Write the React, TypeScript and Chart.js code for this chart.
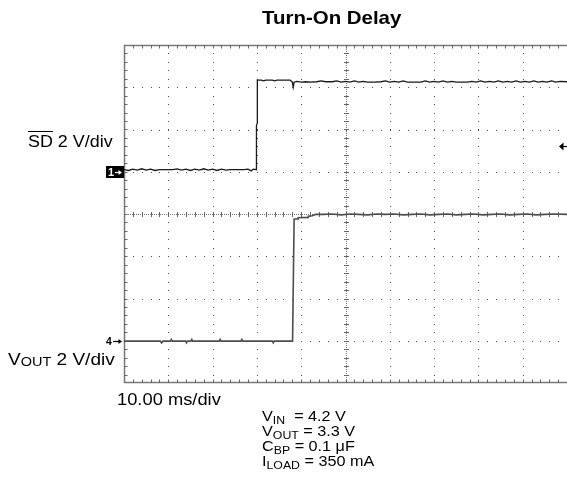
import React, { useEffect, useRef } from "react";
import { Chart, registerables } from "chart.js";

Chart.register(...registerables);

// ---- data (time in ms, level in scope divisions, 0 = bottom graticule line) ----
const timeDivTicks = [0, 10, 20, 30, 40, 50, 60, 70, 80, 90, 100];
const levelDivTicks = [0, 1, 2, 3, 4, 5, 6, 7, 8];

const sdTime = [
  0, 1, 2, 3, 4, 5, 6, 7, 8, 9.5, 11, 12, 13, 14, 15, 16, 17, 18, 19, 20, 21, 22, 23, 24, 25.5, 27, 28, 28.7, 29.2,
  29.9, 29.9, 30.1, 30.1, 31, 31.5, 32, 33.5, 34, 34.5, 36, 37.5, 38, 38.2, 38.4, 39, 40, 41, 42, 43.5, 44.5, 45.5,
  47, 48, 49, 50, 51, 52, 53, 54, 55, 56.5, 58, 59, 60, 61, 62, 63, 64, 65.5, 67, 68, 69, 70, 71, 72, 73, 74, 75,
  76.5, 77.5, 78.5, 79.5, 80.5, 81.5, 82.5, 83.5, 84.5, 85.5, 86.5, 87.5, 88.5, 89.5, 90.5, 91.5, 92.5, 93.5, 94.5,
  95.5, 96.5, 97.5, 98.5, 100,
];
const sdLevel = [
  5.05, 5.03, 5.06, 5.04, 5.07, 5.04, 5.06, 5.03, 5.05, 5.05, 5.05, 5.07, 5.04, 5.06, 5.03, 5.06, 5.04, 5.07, 5.04,
  5.06, 5.03, 5.06, 5.04, 5.05, 5.05, 5.05, 5.06, 5.02, 5.06, 5.05, 6.1, 6.15, 7.17, 7.17, 7.15, 7.17, 7.17, 7.15,
  7.17, 7.17, 7.17, 7.12, 7.0, 7.12, 7.14, 7.12, 7.13, 7.12, 7.13, 7.15, 7.13, 7.13, 7.15, 7.12, 7.14, 7.12, 7.15,
  7.12, 7.14, 7.12, 7.12, 7.13, 7.15, 7.12, 7.14, 7.12, 7.15, 7.12, 7.12, 7.12, 7.15, 7.12, 7.14, 7.12, 7.15, 7.12,
  7.14, 7.12, 7.12, 7.12, 7.14, 7.12, 7.15, 7.12, 7.14, 7.12, 7.15, 7.12, 7.14, 7.12, 7.15, 7.12, 7.14, 7.12, 7.15,
  7.12, 7.14, 7.12, 7.15, 7.12, 7.14, 7.13,
];

const voutTime = [
  0, 8.2, 8.5, 8.8, 10.5, 10.7, 10.9, 13.9, 14.1, 14.3, 15.1, 15.3, 15.5, 21.5, 21.7, 21.9, 26.4, 26.6, 26.8, 33.5,
  33.7, 33.9, 38.05, 38.4, 39.3, 39.3, 41.6, 41.6, 42.5, 43.2, 45, 47, 49, 51, 53, 55, 57, 59, 61, 63, 65, 67, 69,
  71, 73, 75, 77, 79, 81, 83, 85, 87, 89, 91, 93, 95, 97, 100,
];
const voutLevel = [
  0.99, 0.99, 0.95, 0.99, 0.99, 1.03, 0.99, 0.99, 0.95, 0.99, 0.99, 1.03, 0.99, 0.99, 1.03, 0.99, 0.99, 1.03, 0.99,
  0.99, 0.95, 0.99, 0.99, 3.88, 3.88, 3.91, 3.92, 3.95, 3.96, 3.99, 3.99, 4.0, 3.98, 4.0, 3.99, 3.98, 4.0, 3.99, 4.0,
  3.98, 3.99, 4.0, 3.98, 3.99, 4.0, 3.98, 3.99, 4.0, 3.98, 3.99, 4.0, 3.98, 3.99, 4.0, 3.98, 3.99, 4.0, 3.99,
];

const ch1Ground = 5;
const ch4Ground = 1;
const triggerLevel = 5.62;

const titleText = "Turn-On Delay";
const ch1Label = "SD";
const ch1Scale = " 2 V/div";
const ch4Scale = " 2 V/div";
const timebaseLabel = "10.00 ms/div";

const FONT = '"Liberation Sans", Arial, Helvetica, sans-serif';

const gridPlugin = {
  id: "scopeGrid",
  beforeDatasetsDraw(chart: any) {
    const { ctx, chartArea, scales } = chart;
    const xs = scales.x;
    const ys = scales.y;
    const { left, top, bottom } = chartArea;
    const tMin = timeDivTicks[0];
    const tMax = timeDivTicks[timeDivTicks.length - 1];
    const lMin = levelDivTicks[0];
    const lMax = levelDivTicks[levelDivTicks.length - 1];
    const tStep = (timeDivTicks[1] - timeDivTicks[0]) / 5;
    const lStep = (levelDivTicks[1] - levelDivTicks[0]) / 5;
    const tMid = timeDivTicks[Math.floor(timeDivTicks.length / 2)];
    const lMid = levelDivTicks[Math.floor(levelDivTicks.length / 2)];
    ctx.save();
    // dotted major graticule lines
    ctx.fillStyle = "#4a4a4a";
    timeDivTicks.forEach((t) => {
      if (t === tMin || t === tMax || t === tMid) return;
      const px = Math.round(xs.getPixelForValue(t));
      for (let l = lMin + lStep; l < lMax - 1e-6; l += lStep) {
        const py = Math.round(ys.getPixelForValue(l));
        ctx.fillRect(px, py, 1, 1);
      }
    });
    levelDivTicks.forEach((l) => {
      if (l === lMin || l === lMax || l === lMid) return;
      const py = Math.round(ys.getPixelForValue(l));
      for (let t = tMin + tStep; t < tMax - 1e-6; t += tStep) {
        const px = Math.round(xs.getPixelForValue(t));
        ctx.fillRect(px, py, 1, 1);
      }
    });
    // centre cross lines with minor ticks
    const cx = Math.round(xs.getPixelForValue(tMid)) + 0.5;
    const cy = Math.round(ys.getPixelForValue(lMid)) + 0.5;
    ctx.strokeStyle = "#777";
    ctx.lineWidth = 1;
    ctx.setLineDash([1, 1]);
    ctx.beginPath();
    ctx.moveTo(cx, top);
    ctx.lineTo(cx, bottom);
    ctx.moveTo(left, cy);
    ctx.lineTo(chartArea.right, cy);
    ctx.stroke();
    ctx.setLineDash([]);
    ctx.strokeStyle = "#666";
    ctx.beginPath();
    for (let l = lMin + lStep; l < lMax - 1e-6; l += lStep) {
      const py = Math.round(ys.getPixelForValue(l)) + 0.5;
      ctx.moveTo(cx - 2.5, py);
      ctx.lineTo(cx + 2.5, py);
    }
    for (let t = tMin + tStep; t < tMax - 1e-6; t += tStep) {
      const px = Math.round(xs.getPixelForValue(t)) + 0.5;
      ctx.moveTo(px, cy - 2.5);
      ctx.lineTo(px, cy + 2.5);
    }
    ctx.stroke();
    // frame (left, top, bottom) with ticks
    ctx.strokeStyle = "#777";
    ctx.lineWidth = 1.5;
    ctx.beginPath();
    ctx.moveTo(left + 0.5, top);
    ctx.lineTo(left + 0.5, bottom);
    ctx.moveTo(left, top + 0.5);
    ctx.lineTo(chartArea.right, top + 0.5);
    ctx.moveTo(left, bottom - 0.5);
    ctx.lineTo(chartArea.right, bottom - 0.5);
    ctx.stroke();
    ctx.lineWidth = 1;
    ctx.strokeStyle = "#666";
    ctx.beginPath();
    for (let t = tMin + tStep; t < tMax - 1e-6; t += tStep) {
      const px = Math.round(xs.getPixelForValue(t)) + 0.5;
      ctx.moveTo(px, top);
      ctx.lineTo(px, top + 3.5);
      ctx.moveTo(px, bottom);
      ctx.lineTo(px, bottom - 3.5);
    }
    for (let l = lMin + lStep; l < lMax - 1e-6; l += lStep) {
      const py = Math.round(ys.getPixelForValue(l)) + 0.5;
      ctx.moveTo(left, py);
      ctx.lineTo(left + 3.5, py);
    }
    ctx.stroke();
    ctx.restore();
  },
  afterDraw(chart: any) {
    const { ctx, chartArea, scales } = chart;
    const py = Math.round(scales.y.getPixelForValue(triggerLevel)) + 0.5;
    const r = chartArea.right;
    ctx.save();
    ctx.fillStyle = "#000";
    ctx.beginPath();
    ctx.moveTo(r - 8, py);
    ctx.lineTo(r - 3.5, py - 4);
    ctx.lineTo(r - 3.5, py + 4);
    ctx.closePath();
    ctx.fill();
    ctx.strokeStyle = "#000";
    ctx.lineWidth = 1.2;
    ctx.beginPath();
    ctx.moveTo(r - 4, py);
    ctx.lineTo(r, py);
    ctx.stroke();
    ctx.restore();
  },
};

function Label(props: {
  x: number;
  base: number;
  size: number;
  sx?: number;
  bold?: boolean;
  children: any;
}) {
  const { x, base, size, sx = 1, bold = false, children } = props;
  return (
    <div
      style={{
        position: "absolute",
        left: x,
        top: base - 0.8465 * size,
        fontSize: size,
        lineHeight: `${size}px`,
        fontFamily: FONT,
        fontWeight: bold ? 700 : 400,
        whiteSpace: "pre",
        transform: `scaleX(${sx})`,
        transformOrigin: "0 0",
        color: "#000",
      }}
    >
      {children}
    </div>
  );
}

function Sub(props: { children: any; shift?: number }) {
  return (
    <span style={{ fontSize: "0.76em", position: "relative", top: props.shift ?? 3 }}>{props.children}</span>
  );
}

function Arrow(props: { color: string; left: number; top: number; width: number }) {
  const { color, left, top, width } = props;
  return (
    <svg
      width={width}
      height={7}
      style={{ position: "absolute", left, top, display: "block", overflow: "visible" }}
    >
      <line x1={0} y1={3.5} x2={width - 2} y2={3.5} stroke={color} strokeWidth={1.2} />
      <path d={`M${width - 3.5} 1 L${width} 3.5 L${width - 3.5} 6 Z`} fill={color} />
    </svg>
  );
}

export default function App() {
  const canvasRef = useRef<HTMLCanvasElement | null>(null);

  useEffect(() => {
    if (!canvasRef.current) return;
    const chart = new Chart(canvasRef.current, {
      type: "line",
      data: {
        datasets: [
          {
            label: "SD",
            data: sdTime.map((t, i) => ({ x: t, y: sdLevel[i] })),
            borderColor: "#1a1a1a",
            borderWidth: 1.3,
            pointRadius: 0,
            tension: 0,
            fill: false,
          },
          {
            label: "VOUT",
            data: voutTime.map((t, i) => ({ x: t, y: voutLevel[i] })),
            borderColor: "#4d4d4d",
            borderWidth: 1.6,
            pointRadius: 0,
            tension: 0,
            fill: false,
          },
        ],
      },
      options: {
        animation: false,
        responsive: false,
        devicePixelRatio: 1,
        layout: { padding: { left: 124, top: 45, right: 0, bottom: 107 } },
        scales: {
          x: {
            type: "linear",
            min: timeDivTicks[0],
            max: timeDivTicks[timeDivTicks.length - 1],
            display: false,
          },
          y: {
            type: "linear",
            min: levelDivTicks[0],
            max: levelDivTicks[levelDivTicks.length - 1],
            display: false,
          },
        },
        plugins: {
          legend: { display: false },
          tooltip: { enabled: false },
          title: { display: false },
        },
      },
      plugins: [gridPlugin],
    });
    return () => chart.destroy();
  }, []);

  // marker vertical positions follow the chart's fixed layout (top 45, 8 divs of 42.25 px)
  const divPx = (490 - 107 - 45) / 8;
  const ch1Y = Math.round(383 - ch1Ground * divPx);
  const ch4Y = Math.round(383 - ch4Ground * divPx);

  return (
    <div style={{ position: "absolute", left: 0, top: 0, width: 567, height: 490, background: "#fff" }}>
      <canvas ref={canvasRef} width={567} height={490} style={{ display: "block" }} />
      <Label x={262} base={25} size={17.8} sx={1.15} bold>
        {titleText}
      </Label>
      <Label x={28} base={146.7} size={16.3} sx={1.1}>
        <span style={{ textDecoration: "overline" }}>{ch1Label}</span>
        {ch1Scale}
      </Label>
      <Label x={8} base={365.5} size={17} sx={1.12}>
        V<Sub shift={1}>OUT</Sub>
        {ch4Scale}
      </Label>
      <Label x={116.5} base={405} size={16.3} sx={1.125}>
        {timebaseLabel}
      </Label>
      <Label x={261.5} base={420.7} size={15} sx={1.08}>
        V<Sub>IN</Sub>
        {"  = 4.2 V"}
      </Label>
      <Label x={261.5} base={436} size={15} sx={1.08}>
        V<Sub>OUT</Sub>
        {" = 3.3 V"}
      </Label>
      <Label x={261.5} base={450.7} size={15} sx={1.08}>
        C<Sub>BP</Sub>
        {" = 0.1 μF"}
      </Label>
      <Label x={261.5} base={466} size={15} sx={1.08}>
        I<Sub>LOAD</Sub>
        {" = 350 mA"}
      </Label>
      {/* channel 1 ground marker */}
      <div
        style={{
          position: "absolute",
          left: 106,
          top: ch1Y - 6,
          width: 18,
          height: 12,
          background: "#000",
        }}
      >
        <span
          style={{
            position: "absolute",
            left: 2,
            top: 0,
            color: "#fff",
            fontFamily: FONT,
            fontWeight: 700,
            fontSize: 11,
            lineHeight: "12px",
          }}
        >
          1
        </span>
        <Arrow color="#fff" left={9} top={2.5} width={7} />
      </div>
      {/* channel 4 ground marker */}
      <span
        style={{
          position: "absolute",
          left: 106,
          top: ch4Y - 6,
          color: "#000",
          fontFamily: FONT,
          fontWeight: 700,
          fontSize: 10.5,
          lineHeight: "12px",
        }}
      >
        4
      </span>
      <Arrow color="#000" left={113} top={ch4Y - 3.5} width={9} />
    </div>
  );
}
